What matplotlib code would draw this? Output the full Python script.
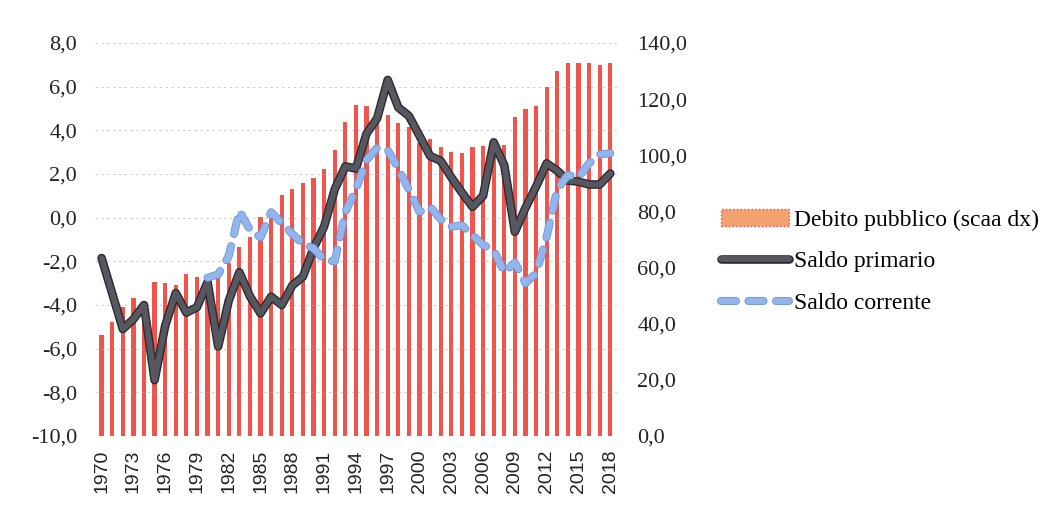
import numpy as np
import matplotlib
matplotlib.use('Agg')
import matplotlib.pyplot as plt
import matplotlib.patheffects as pe
from matplotlib.patches import Patch

# Data (Italy: public debt, primary and current balance, % of GDP)
years = list(range(1970, 2019))
debito = [36.0, 40.6, 46.0, 49.3, 47.0, 55.0, 54.6, 53.8, 57.8, 56.5,
          56.0, 58.0, 61.5, 67.3, 70.8, 78.0, 80.0, 85.9, 88.1, 90.2,
          91.8, 95.0, 101.9, 112.0, 118.0, 117.6, 111.4, 114.5, 111.4, 110.2,
          104.5, 105.8, 102.8, 101.3, 101.0, 102.9, 103.4, 100.5, 103.6, 113.7,
          116.5, 117.6, 124.4, 130.0, 133.0, 132.8, 133.0, 132.2, 133.0]
saldo_primario = [-1.85, -3.47, -5.1, -4.65, -4.0, -7.44, -4.95, -3.45, -4.35, -4.1,
                  -2.95, -5.9, -3.8, -2.5, -3.6, -4.38, -3.62, -4.0, -3.1, -2.7,
                  -1.4, -0.4, 1.3, 2.35, 2.25, 3.85, 4.55, 6.31, 5.05, 4.66,
                  3.75, 2.83, 2.6, 1.85, 1.15, 0.5, 1.0, 3.45, 2.4, -0.65,
                  0.45, 1.42, 2.49, 2.15, 1.7, 1.65, 1.52, 1.52, 2.02]
saldo_corrente = [np.nan] * 10 + [
    -2.75, -2.6, -1.75, 0.3, -0.55, -0.9, 0.25, -0.25, -0.75, -1.2,
    -1.4, -1.93, -2.0, 0.25, 1.3, 2.64, 3.2, 3.1, 2.25, 1.27,
    0.27, 0.5, -0.07, -0.41, -0.35, -0.8, -1.25, -1.48, -2.5, -2.05,
    -3.0, -2.55, -0.87, 1.3, 1.95, 1.85, 2.49, 2.9, 2.95]

left_ticks = np.arange(-10, 9, 2)
right_ticks = np.arange(0, 141, 20)
xtick_years = years[::3]

serif = 'Liberation Serif'
sans = 'Liberation Sans'

fig = plt.figure(figsize=(10.49, 5.08), dpi=100)
ax = fig.add_axes([0.0908, 0.1417, 0.497, 0.7736])
ax2 = ax.twinx()

# bars on the right axis
ax2.bar(years, debito, width=0.4, color='#f0544b', edgecolor='none')
ax2.set_ylim(0, 140)
ax2.set_yticks(right_ticks)
ax2.set_yticklabels([f'{v:.1f}'.replace('.', ',') for v in right_ticks],
                    fontfamily=serif, fontsize=16, color='#222222')

# lines on the left axis, drawn above the bars
ax.set_zorder(ax2.get_zorder() + 1)
ax.patch.set_visible(False)
l1, = ax.plot(years, saldo_primario, color='#57585f', lw=4.2, solid_joinstyle='round',
              solid_capstyle='round', label='Saldo primario',
              path_effects=[pe.Stroke(linewidth=6.2, foreground='#2a2a30'), pe.Normal()])
l2, = ax.plot(years, saldo_corrente, color='#93b5ec', lw=4.5, dashes=(2.4, 2.0),
              dash_capstyle='round', label='Saldo corrente',
              path_effects=[pe.Stroke(linewidth=5.8, foreground='#6f98dc'), pe.Normal()])
ax.set_ylim(-10, 8)
ax.set_yticks(left_ticks)
ax.set_yticklabels([f'{v:.1f}'.replace('.', ',') for v in left_ticks],
                   fontfamily=serif, fontsize=16, color='#222222')
ax.yaxis.grid(True, linestyle=(0, (3, 4)), color='#a0a0a0', lw=0.6, alpha=0.6)

ax.set_xlim(1969.4, 2018.6)
ax.set_xticks(xtick_years)
ax.set_xticklabels([str(y) for y in xtick_years], rotation=90,
                   fontfamily=sans, fontsize=14, color='#222222')

for a in (ax, ax2):
    for s in a.spines.values():
        s.set_visible(False)
ax.tick_params(axis='y', length=0, pad=13)
ax.tick_params(axis='x', length=0, pad=10)
ax2.tick_params(axis='y', length=0, pad=15)

bar_handle = Patch(facecolor='#f4a070', edgecolor='#e8484a', linestyle=':',
                   linewidth=1.0, label='Debito pubblico (scaa dx)')
fig.legend(handles=[bar_handle, l1, l2], loc='center left',
           bbox_to_anchor=(0.676, 0.485), frameon=False,
           prop={'family': serif, 'size': 17}, handlelength=2.9,
           handletextpad=0.2, labelspacing=0.85, borderpad=0)

fig.savefig('out.png', dpi=100)
